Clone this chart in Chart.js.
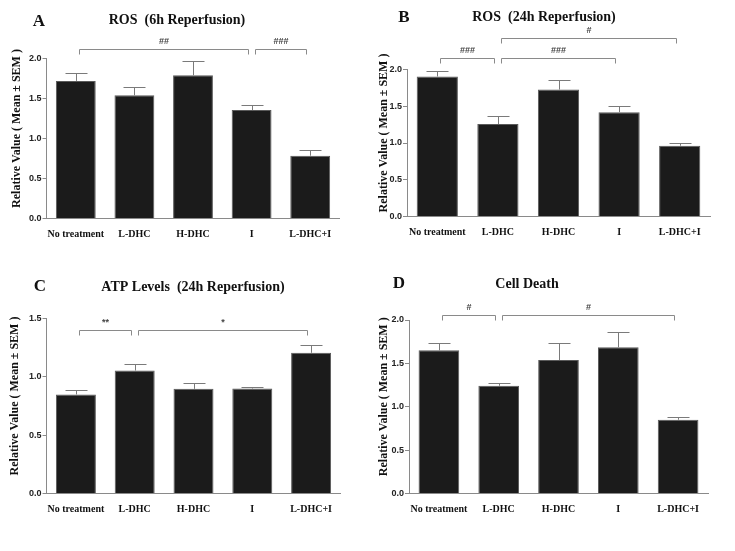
<!DOCTYPE html>
<html>
<head>
<meta charset="utf-8">
<script src="https://cdn.jsdelivr.net/npm/chart.js@4.4.1/dist/chart.umd.min.js"></script>
<style>
body { margin: 0; background: #fff; }
#wrap { position: relative; width: 735px; height: 551px; }
canvas { position: absolute; }
</style>
</head>
<body>
<div id="wrap">
  <canvas id="panelA" width="367" height="275" style="left:0;top:0"></canvas>
  <canvas id="panelB" width="368" height="275" style="left:367px;top:0"></canvas>
  <canvas id="panelC" width="367" height="276" style="left:0;top:275px"></canvas>
  <canvas id="panelD" width="368" height="276" style="left:367px;top:275px"></canvas>
</div>
<script>
const categories = ['No treatment', 'L-DHC', 'H-DHC', 'I', 'L-DHC+I'];

const rosSixMean = [1.72, 1.54, 1.79, 1.355, 0.785];
const rosSixSem = [0.10, 0.10, 0.18, 0.065, 0.068];
const rosSixBrackets = [[0, 3, 2.12, '##'], [3, 4, 2.12, '###']];

const rosDayMean = [1.905, 1.258, 1.727, 1.42, 0.963];
const rosDaySem = [0.077, 0.112, 0.128, 0.082, 0.032];
const rosDayBrackets = [[0, 1, 2.157, '###'], [1, 3, 2.157, '###'], [1, 4, 2.433, '#']];

const atpMean = [0.849, 1.054, 0.897, 0.90, 1.206];
const atpSem = [0.034, 0.057, 0.054, 0.011, 0.068];
const atpBrackets = [[0, 1, 1.40, '**'], [1, 4, 1.40, '*']];

const deathMean = [1.65, 1.242, 1.538, 1.685, 0.85];
const deathSem = [0.088, 0.035, 0.193, 0.177, 0.027];
const deathBrackets = [[0, 1, 2.054, '#'], [1, 4, 2.054, '#']];

const yTickValues = [0, 0.5, 1.0, 1.5, 2.0];
const yAxisTitle = 'Relative Value ( Mean ± SEM )';

function createPanel(canvasId, panel) {
    const ctx = document.getElementById(canvasId).getContext('2d');
    const W = ctx.canvas.width, H = ctx.canvas.height;

    const decorations = {
        id: 'decorations',
        afterDraw(chart) {
            const c = chart.ctx;
            const xs = chart.scales.x, ys = chart.scales.y;
            c.save();
            // error bars (upper whisker only)
            c.strokeStyle = '#7a7a7a';
            c.lineWidth = 1;
            panel.mean.forEach((m, i) => {
                const x = Math.round(xs.getPixelForValue(i)) + 0.5;
                const y0 = ys.getPixelForValue(m);
                const y1 = Math.round(ys.getPixelForValue(m + panel.sem[i])) + 0.5;
                c.beginPath();
                c.moveTo(x, y0);
                c.lineTo(x, y1);
                c.moveTo(x - 11, y1);
                c.lineTo(x + 11, y1);
                c.stroke();
            });
            // significance brackets
            c.strokeStyle = '#8a8a8a';
            c.fillStyle = '#444';
            c.font = 'bold 9px "Liberation Sans", Arial, sans-serif';
            c.textAlign = 'center';
            c.textBaseline = 'bottom';
            panel.brackets.forEach(([a, b, level, label]) => {
                const x1 = Math.round(xs.getPixelForValue(a)) + 3.5;
                const x2 = Math.round(xs.getPixelForValue(b)) - 3.5;
                const y = Math.round(ys.getPixelForValue(level)) + 0.5;
                c.beginPath();
                c.moveTo(x1, y + 5);
                c.lineTo(x1, y);
                c.lineTo(x2, y);
                c.lineTo(x2, y + 5);
                c.stroke();
                c.fillText(label, (x1 + x2) / 2, y - 3);
            });
            // panel letter and title
            c.fillStyle = '#111';
            c.textBaseline = 'middle';
            c.font = 'bold 17px "Liberation Serif", "Times New Roman", serif';
            c.fillText(panel.letter, panel.letterPos[0], panel.letterPos[1]);
            c.font = 'bold 14px "Liberation Serif", "Times New Roman", serif';
            c.fillText(panel.title, panel.titlePos[0], panel.titlePos[1]);
            // y axis title
            c.translate(panel.yTitleX, (chart.chartArea.top + chart.chartArea.bottom) / 2 - 10);
            c.rotate(-Math.PI / 2);
            c.font = 'bold 12px "Liberation Serif", "Times New Roman", serif';
            c.fillText(yAxisTitle, 0, 0);
            c.restore();
        }
    };

    const data = {
        labels: categories,
        datasets: [{
            data: panel.mean,
            backgroundColor: '#1b1b1b',
            borderColor: '#5a5a5a',
            borderWidth: 1,
            barPercentage: 0.68,
            categoryPercentage: 1.0
        }]
    };
    const config = {
        type: 'bar',
        data: data,
        options: {
            responsive: false,
            animation: false,
            devicePixelRatio: 1,
            layout: {padding: {left: 0, top: panel.top, right: W - panel.right, bottom: 0}},
            plugins: {legend: {display: false}, tooltip: {enabled: false}},
            scales: {
                x: {
                    grid: {display: false},
                    border: {color: '#8a8a8a'},
                    ticks: {
                        padding: 2,
                        color: '#111',
                        maxRotation: 0,
                        autoSkip: false,
                        font: {family: '"Liberation Serif", "Times New Roman", serif', size: 10, weight: 'bold'}
                    },
                    afterFit: scale => { scale.height = H - panel.bottom; }
                },
                y: {
                    min: 0,
                    max: panel.yMax,
                    afterBuildTicks: scale => {
                        scale.ticks = yTickValues.filter(v => v <= panel.yMax).map(v => ({value: v}));
                    },
                    grid: {drawOnChartArea: false, drawTicks: true, tickLength: 4, color: '#8a8a8a'},
                    border: {color: '#8a8a8a'},
                    ticks: {
                        padding: 1,
                        color: '#222',
                        callback: v => v.toFixed(1),
                        font: {family: '"Liberation Sans", Arial, sans-serif', size: 9, weight: 'bold'}
                    },
                    afterFit: scale => { scale.width = panel.left; }
                }
            }
        },
        plugins: [decorations]
    };
    return new Chart(ctx, config);
}

createPanel('panelA', {
    mean: rosSixMean, sem: rosSixSem, brackets: rosSixBrackets, yMax: 2.0,
    left: 46.5, right: 339.5, top: 58.5, bottom: 218.5,
    letter: 'A', letterPos: [39, 22], title: 'ROS  (6h Reperfusion)', titlePos: [177, 20], yTitleX: 17
});
createPanel('panelB', {
    mean: rosDayMean, sem: rosDaySem, brackets: rosDayBrackets, yMax: 2.0,
    left: 40, right: 343, top: 69.5, bottom: 216.5,
    letter: 'B', letterPos: [37, 18], title: 'ROS  (24h Reperfusion)', titlePos: [177, 17], yTitleX: 17
});
createPanel('panelC', {
    mean: atpMean, sem: atpSem, brackets: atpBrackets, yMax: 1.5,
    left: 46.5, right: 340.5, top: 43.5, bottom: 218.5,
    letter: 'C', letterPos: [40, 12], title: 'ATP Levels  (24h Reperfusion)', titlePos: [193, 12], yTitleX: 15
});
createPanel('panelD', {
    mean: deathMean, sem: deathSem, brackets: deathBrackets, yMax: 2.0,
    left: 42, right: 341, top: 45, bottom: 218.5,
    letter: 'D', letterPos: [32, 9], title: 'Cell Death', titlePos: [160, 9], yTitleX: 17
});
</script>
</body>
</html>
